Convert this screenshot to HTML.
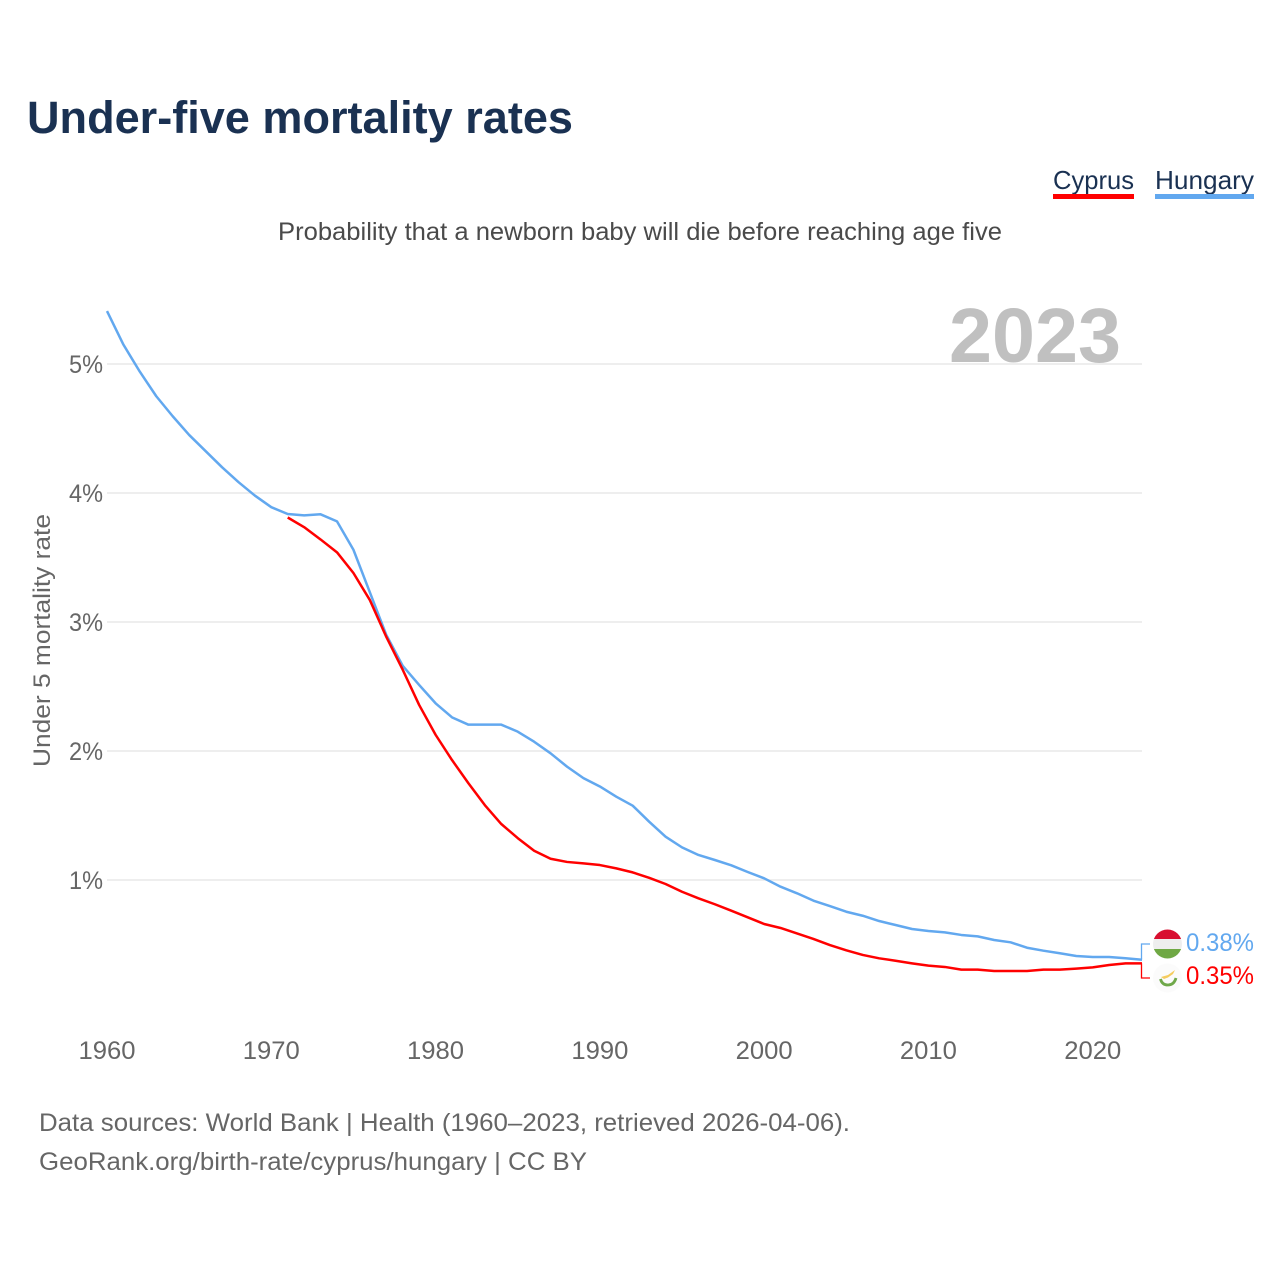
<!DOCTYPE html>
<html lang="en">
<head>
<meta charset="utf-8">
<title>Under-five mortality rates</title>
<style>
html,body{margin:0;padding:0;background:#fff;width:1280px;height:1280px;overflow:hidden}
svg{display:block}
text{font-family:"Liberation Sans",sans-serif}
</style>
</head>
<body>
<svg id="chart" xmlns="http://www.w3.org/2000/svg" width="1280" height="1280" viewBox="0 0 1280 1280">
  <rect width="1280" height="1280" fill="#ffffff"/>
  <text x="27" y="133" font-size="45" font-weight="700" fill="#1a3152" textLength="546" lengthAdjust="spacingAndGlyphs">Under-five mortality rates</text>
  <g>
    <g>
      <text x="1053" y="189" font-size="26" fill="#1a3152" textLength="81" lengthAdjust="spacingAndGlyphs">Cyprus</text>
      <rect x="1053" y="194" width="81" height="5" fill="#ff0000"/>
    </g>
    <g>
      <text x="1155" y="189" font-size="26" fill="#1a3152" textLength="99" lengthAdjust="spacingAndGlyphs">Hungary</text>
      <rect x="1155" y="194" width="99" height="5" fill="#62a8ef"/>
    </g>
  </g>
  <text x="278" y="240" font-size="25" fill="#4a4a4a" textLength="724" lengthAdjust="spacingAndGlyphs">Probability that a newborn baby will die before reaching age five</text>
  <g id="grid"></g>
  <text id="yearLabel" x="949" y="362" font-size="77" font-weight="700" fill="#c0c0c0" textLength="172" lengthAdjust="spacingAndGlyphs">2023</text>
  <g id="yticks"></g>
  <g id="xticks"></g>
  <text transform="translate(50,640.5) rotate(-90)" text-anchor="middle" font-size="24" fill="#666666" textLength="253" lengthAdjust="spacingAndGlyphs">Under 5 mortality rate</text>
  <g id="series"></g>
  <g id="ends"></g>
  <g>
    <clipPath id="clipHu"><circle cx="1167.5" cy="944" r="14.5"/></clipPath>
    <g clip-path="url(#clipHu)">
      <rect x="1153" y="929" width="29" height="10" fill="#d80f30"/>
      <rect x="1153" y="939" width="29" height="10" fill="#eeeeee"/>
      <rect x="1153" y="949" width="29" height="10" fill="#6fa844"/>
    </g>
  </g>
  <g>
    <circle cx="1167.5" cy="978" r="14.5" fill="#fbfbfb"/>
    <path d="M1161 977 L1168 975 L1175 970 L1173 974 L1168 977.500 L1164 979 Z" fill="#f5cc5e"/>
    <path d="M1160.500 979 Q1162 985 1168 985 Q1174 985 1176 978" fill="none" stroke="#6fa84a" stroke-width="2.800"/>
  </g>
  <text x="39" y="1131" font-size="25" fill="#666666" textLength="811" lengthAdjust="spacingAndGlyphs">Data sources: World Bank | Health (1960–2023, retrieved 2026-04-06).</text>
  <text x="39" y="1170" font-size="25" fill="#666666" textLength="548" lengthAdjust="spacingAndGlyphs">GeoRank.org/birth-rate/cyprus/hungary | CC BY</text>
</svg>
<script>
var hungaryStartYear = 1960;
var cyprusStartYear = 1971;
var hungaryValues = [5.41,5.15,4.94,4.75,4.595,4.45,4.325,4.20,4.085,3.98,3.89,3.837,3.827,3.835,3.78,3.56,3.23,2.90,2.66,2.512,2.37,2.261,2.204,2.204,2.204,2.15,2.072,1.982,1.879,1.79,1.725,1.646,1.576,1.452,1.336,1.253,1.194,1.155,1.114,1.062,1.013,0.948,0.897,0.84,0.798,0.754,0.723,0.682,0.651,0.62,0.605,0.594,0.574,0.563,0.535,0.517,0.475,0.452,0.432,0.411,0.403,0.403,0.393,0.382];
var cyprusValues = [3.81,3.735,3.64,3.54,3.38,3.17,2.885,2.63,2.357,2.126,1.93,1.75,1.58,1.434,1.325,1.227,1.165,1.14,1.129,1.116,1.09,1.059,1.017,0.969,0.909,0.858,0.812,0.762,0.711,0.659,0.628,0.586,0.543,0.496,0.455,0.419,0.393,0.374,0.354,0.336,0.326,0.305,0.305,0.295,0.295,0.295,0.305,0.305,0.313,0.323,0.341,0.354,0.354];
var yTickValues = [1,2,3,4,5];
var yTickLabels = ["1%","2%","3%","4%","5%"];
var xTickYears = [1960,1970,1980,1990,2000,2010,2020];
var xTickLabels = ["1960","1970","1980","1990","2000","2010","2020"];
var hungaryEndLabel = "0.38%";
var cyprusEndLabel = "0.35%";

var NS = "http://www.w3.org/2000/svg";
function xScale(year){ return 107 + (year - 1960) * (1142 - 107) / 63; }
function yScale(v){ return 1009 - v * 129; }
function make(tag, attrs, parent){
  var el = document.createElementNS(NS, tag);
  for (var k in attrs) el.setAttribute(k, attrs[k]);
  parent.appendChild(el);
  return el;
}
var grid = document.getElementById("grid");
var yticks = document.getElementById("yticks");
var xticks = document.getElementById("xticks");
var series = document.getElementById("series");
var ends = document.getElementById("ends");

yTickValues.forEach(function(v, i){
  var line = make("line", {x1: xScale(1960), x2: xScale(2023), y1: yScale(v), y2: yScale(v), stroke: "#e8e8e8", "stroke-width": 1.5}, grid);
  
  
  var t = make("text", {x: 103, y: yScale(v) + 9, "text-anchor": "end", "font-size": 25, fill: "#666666", textLength: 34, lengthAdjust: "spacingAndGlyphs"}, yticks);
  
  
  t.textContent = yTickLabels[i];
});
xTickYears.forEach(function(y, i){
  var t = make("text", {x: xScale(y), y: 1059, "text-anchor": "middle", "font-size": 25, fill: "#666666", textLength: 57, lengthAdjust: "spacingAndGlyphs"}, xticks);
  
  
  t.textContent = xTickLabels[i];
});
function pathFor(values, startYear){
  return values.map(function(v, i){
    return (i ? "L" : "M") + xScale(startYear + i).toFixed(2) + " " + yScale(v).toFixed(2);
  }).join(" ");
}
var hungaryLine = make("path", {d: pathFor(hungaryValues, hungaryStartYear), fill: "none", stroke: "#62a8ef", "stroke-width": 2.5, "stroke-linejoin": "round"}, series);


var cyprusLine = make("path", {d: pathFor(cyprusValues, cyprusStartYear), fill: "none", stroke: "#ff0000", "stroke-width": 2.5, "stroke-linejoin": "round"}, series);



var hungaryEndY = yScale(hungaryValues[hungaryValues.length - 1]);
var cyprusEndY = yScale(cyprusValues[cyprusValues.length - 1]);
var huLeader = make("path", {d: "M1141.500 " + hungaryEndY.toFixed(2) + " V944 H1150", fill: "none", stroke: "#62a8ef", "stroke-width": 1.3}, ends);


var cyLeader = make("path", {d: "M1141.500 " + cyprusEndY.toFixed(2) + " V978 H1150", fill: "none", stroke: "#ff0000", "stroke-width": 1.3}, ends);


var huValue = make("text", {x: 1186, y: 951, "font-size": 25, fill: "#62a8ef", textLength: 68, lengthAdjust: "spacingAndGlyphs"}, ends);


huValue.textContent = hungaryEndLabel;
var cyValue = make("text", {x: 1186, y: 984, "font-size": 25, fill: "#ff0000", textLength: 68, lengthAdjust: "spacingAndGlyphs"}, ends);


cyValue.textContent = cyprusEndLabel;
</script>
</body>
</html>
